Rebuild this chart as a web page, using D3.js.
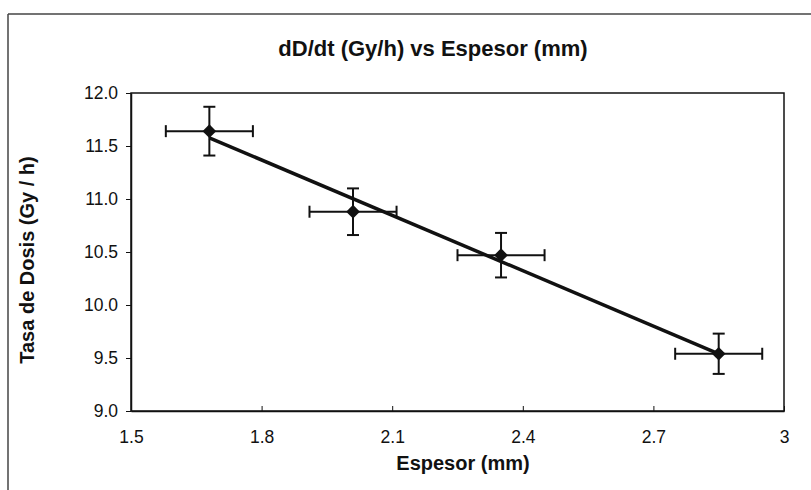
<!DOCTYPE html>
<html>
<head>
<meta charset="utf-8">
<script src="https://cdn.jsdelivr.net/npm/d3@7/dist/d3.min.js"></script>
<style>
  body { margin: 0; background: #fff; }
  svg { display: block; font-family: 'Liberation Sans', Arial, sans-serif; }
  .tick text { font-size: 17.5px; fill: #111; }
  .title { font-size: 22px; font-weight: bold; fill: #111; }
  .axis-title { font-size: 20px; font-weight: bold; fill: #111; }
</style>
</head>
<body>
<div id="chart"></div>
<script>
// data
const espesor = [1.68, 2.01, 2.35, 2.85];
const tasa = [11.64, 10.88, 10.47, 9.54];
const errEspesor = [0.10, 0.10, 0.10, 0.10];
const errTasa = [0.23, 0.22, 0.21, 0.19];

const xTicks = [1.5, 1.8, 2.1, 2.4, 2.7, 3];
const yTicks = [9.0, 9.5, 10.0, 10.5, 11.0, 11.5, 12.0];

const W = 811, H = 490;
const margin = { top: 93, right: 27, bottom: 79, left: 131 };
const width = W - margin.left - margin.right;
const height = H - margin.top - margin.bottom;

const svg = d3.select('#chart').append('svg')
  .attr('width', W)
  .attr('height', H);

// outer frame (top and left edges)
svg.append('line')
  .attr('x1', 8).attr('x2', W).attr('y1', 14).attr('y2', 14)
  .attr('stroke', '#444').attr('stroke-width', 1.5);
svg.append('line')
  .attr('x1', 8).attr('x2', 8).attr('y1', 14).attr('y2', H)
  .attr('stroke', '#444').attr('stroke-width', 1.5);

const g = svg.append('g')
  .attr('transform', `translate(${margin.left},${margin.top})`);

const x = d3.scaleLinear().domain([1.5, 3]).range([0, width]);
const y = d3.scaleLinear().domain([9, 12]).range([height, 0]);

// plot frame
g.append('rect')
  .attr('width', width).attr('height', height)
  .attr('fill', 'none').attr('stroke', '#111').attr('stroke-width', 1.5);

// x axis, ticks point inward
const xAxis = g.append('g')
  .attr('transform', `translate(0,${height})`)
  .call(d3.axisBottom(x).tickValues(xTicks).tickSizeInner(-5).tickSizeOuter(0)
    .tickPadding(20).tickFormat(d3.format('')));
xAxis.select('.domain').attr('stroke', '#111').attr('stroke-width', 1.5);
xAxis.selectAll('.tick line').attr('stroke', '#111');

// y axis, ticks point outward
const yAxis = g.append('g')
  .call(d3.axisLeft(y).tickValues(yTicks).tickSizeInner(5).tickSizeOuter(0)
    .tickPadding(8).tickFormat(d3.format('.1f')));
yAxis.select('.domain').attr('stroke', '#111').attr('stroke-width', 1.5);
yAxis.selectAll('.tick line').attr('stroke', '#111');

const points = espesor.map((e, i) => ({ x: e, y: tasa[i], ex: errEspesor[i], ey: errTasa[i] }));

// linear trend through the points
const mx = d3.mean(espesor), my = d3.mean(tasa);
const slope = d3.sum(points, (p) => (p.x - mx) * (p.y - my)) / d3.sum(points, (p) => (p.x - mx) ** 2);
const intercept = my - slope * mx;
const xExt = d3.extent(espesor);

g.append('line')
  .attr('x1', x(xExt[0])).attr('y1', y(intercept + slope * xExt[0]))
  .attr('x2', x(xExt[1])).attr('y2', y(intercept + slope * xExt[1]))
  .attr('stroke', '#111').attr('stroke-width', 3.5);

// error bars
const cap = 6;
const eb = g.append('g').attr('stroke', '#111').attr('stroke-width', 2);
points.forEach((p) => {
  const cx = x(p.x), cy = y(p.y);
  eb.append('line').attr('x1', x(p.x - p.ex)).attr('x2', x(p.x + p.ex)).attr('y1', cy).attr('y2', cy);
  eb.append('line').attr('x1', x(p.x - p.ex)).attr('x2', x(p.x - p.ex)).attr('y1', cy - cap).attr('y2', cy + cap);
  eb.append('line').attr('x1', x(p.x + p.ex)).attr('x2', x(p.x + p.ex)).attr('y1', cy - cap).attr('y2', cy + cap);
  eb.append('line').attr('x1', cx).attr('x2', cx).attr('y1', y(p.y - p.ey)).attr('y2', y(p.y + p.ey));
  eb.append('line').attr('x1', cx - cap).attr('x2', cx + cap).attr('y1', y(p.y + p.ey)).attr('y2', y(p.y + p.ey));
  eb.append('line').attr('x1', cx - cap).attr('x2', cx + cap).attr('y1', y(p.y - p.ey)).attr('y2', y(p.y - p.ey));
});

// diamond markers
g.selectAll('.marker')
  .data(points)
  .enter().append('path')
  .attr('class', 'marker')
  .attr('d', d3.symbol().type(d3.symbolDiamond2).size(120))
  .attr('transform', (d) => `translate(${x(d.x)},${y(d.y)})`)
  .attr('fill', '#111');

// titles
svg.append('text')
  .attr('class', 'title')
  .attr('x', 433).attr('y', 56)
  .attr('text-anchor', 'middle')
  .text('dD/dt (Gy/h) vs Espesor (mm)');

svg.append('text')
  .attr('class', 'axis-title')
  .attr('x', 463).attr('y', 470)
  .attr('text-anchor', 'middle')
  .text('Espesor (mm)');

svg.append('text')
  .attr('class', 'axis-title')
  .attr('transform', `translate(34,260) rotate(-90)`)
  .attr('text-anchor', 'middle')
  .text('Tasa de Dosis (Gy / h)');
</script>
</body>
</html>
